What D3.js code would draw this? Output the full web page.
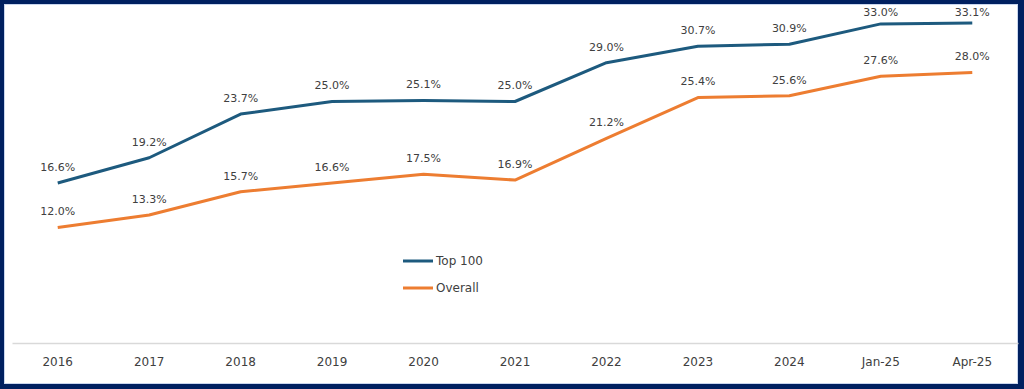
<!DOCTYPE html>
<html>
<head>
<meta charset="utf-8">
<script src="https://cdn.jsdelivr.net/npm/d3@7"></script>
<style>
  html, body { margin: 0; padding: 0; background: #fff; }
  svg { display: block; font-family: "DejaVu Sans", Verdana, sans-serif; }
  .lbl { fill: #404040; font-size: 11px; }
</style>
</head>
<body>
<svg id="chart" width="1024" height="389"></svg>
<script>
// categories and values
const categories = ["2016", "2017", "2018", "2019", "2020", "2021", "2022", "2023", "2024", "Jan-25", "Apr-25"];
const top100 = [16.6, 19.2, 23.7, 25.0, 25.1, 25.0, 29.0, 30.7, 30.9, 33.0, 33.1];
const overall = [12.0, 13.3, 15.7, 16.6, 17.5, 16.9, 21.2, 25.4, 25.6, 27.6, 28.0];
const seriesNames = ["Top 100", "Overall"];
const colors = ["#1D5A7E", "#ED7D31"];

const W = 1024, H = 389;
const svg = d3.select("#chart");

// frame
svg.append("rect").attr("x", 0).attr("y", 0).attr("width", W).attr("height", H).attr("fill", "#002060");
svg.append("rect").attr("x", 4).attr("y", 4).attr("width", W - 10).attr("height", H - 9).attr("fill", "#C9D6EE");
svg.append("rect").attr("x", 5).attr("y", 5).attr("width", W - 12).attr("height", H - 11).attr("fill", "#fff");

const x = d3.scaleBand().domain(categories).range([12, 1018]).paddingInner(0).paddingOuter(0);
const y = d3.scaleLinear().domain([0, 35]).range([344, 4.5]);
const cx = (c) => x(c) + x.bandwidth() / 2;

// category axis
const xAxis = svg.append("g")
  .attr("transform", "translate(0,343)")
  .call(d3.axisBottom(x).tickSize(0).tickPadding(12));
xAxis.attr("font-family", null).attr("font-size", null);
xAxis.select(".domain").attr("stroke", "#D9D9D9").attr("stroke-width", 1.5);
xAxis.selectAll(".tick text")
  .attr("dy", "0.95em")
  .attr("fill", "#404040")
  .style("font-size", "12px");

const line = d3.line()
  .x((d, i) => cx(categories[i]))
  .y((d) => y(d));

const series = [top100, overall];

series.forEach((vals, s) => {
  svg.append("path")
    .datum(vals)
    .attr("fill", "none")
    .attr("stroke", colors[s])
    .attr("stroke-width", 3)
    .attr("stroke-linejoin", "round")
    .attr("d", line);

  svg.append("g").selectAll("text")
    .data(vals)
    .enter()
    .append("text")
    .attr("class", "lbl")
    .attr("x", (d, i) => cx(categories[i]))
    .attr("y", (d) => Math.max(y(d) - 16, 12))
    .attr("dy", "0.35em")
    .attr("text-anchor", "middle")
    .text((d) => d.toFixed(1) + "%");
});

// legend
const legend = svg.append("g").attr("transform", "translate(403,261)");
seriesNames.forEach((name, i) => {
  const g = legend.append("g").attr("transform", `translate(0,${i * 27})`);
  g.append("line")
    .attr("x1", 0).attr("x2", 30)
    .attr("stroke", colors[i]).attr("stroke-width", 3);
  g.append("text")
    .attr("class", "lbl")
    .attr("x", 33)
    .attr("dy", "0.35em")
    .style("font-size", "12px")
    .text(name);
});
</script>
</body>
</html>
